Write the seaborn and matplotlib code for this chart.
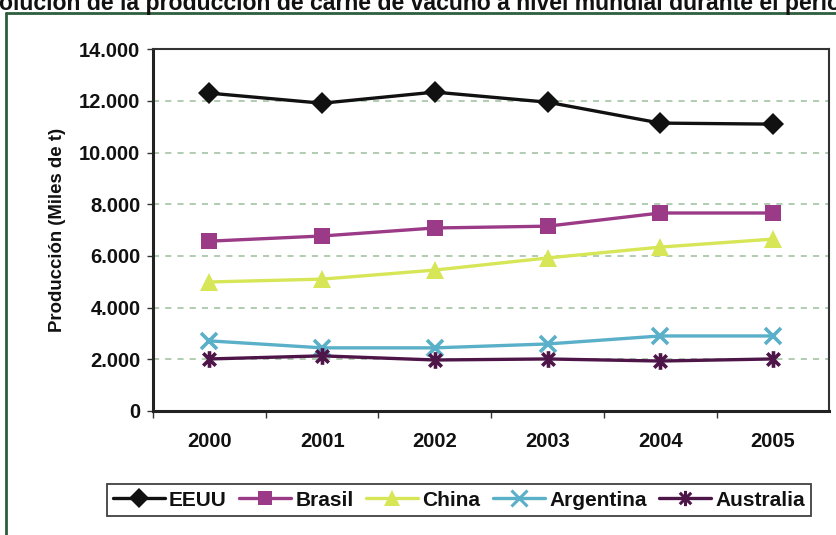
import matplotlib
matplotlib.use("Agg")
import matplotlib.pyplot as plt
import matplotlib.ticker as mticker
from matplotlib.path import Path
from matplotlib.lines import Line2D
import seaborn as sns
import pandas as pd

years = [2000, 2001, 2002, 2003, 2004, 2005]
eeuu = [12300, 11910, 12340, 11950, 11140, 11100]
brasil = [6570, 6770, 7080, 7150, 7660, 7660]
china = [4990, 5100, 5450, 5920, 6340, 6650]
argentina = [2710, 2440, 2440, 2590, 2900, 2900]
australia = [2010, 2130, 1970, 2010, 1930, 2010]
series_names = ["EEUU", "Brasil", "China", "Argentina", "Australia"]
y_ticks = [0, 2000, 4000, 6000, 8000, 10000, 12000, 14000]
title = "Evolución de la producción de carne de vacuno a nivel mundial durante el período 2000-2005"

sns.set_theme(style="white")
plt.rcParams['font.family'] = ['Liberation Sans', 'DejaVu Sans']

rows = []
for name, vals in zip(series_names, [eeuu, brasil, china, argentina, australia]):
    for yr, v in zip(years, vals):
        rows.append({"Año": yr, "Producción": v, "País": name})
df = pd.DataFrame(rows)

colors = {"EEUU": "#111111", "Brasil": "#9b3a86", "China": "#d6e657",
          "Argentina": "#5ab0c8", "Australia": "#4e1549"}
star = Path([(0, -1), (0, 1), (-0.75, -0.75), (0.75, 0.75), (-0.75, 0.75), (0.75, -0.75)],
            [Path.MOVETO, Path.LINETO, Path.MOVETO, Path.LINETO, Path.MOVETO, Path.LINETO])
markers = {"EEUU": "D", "Brasil": "s", "China": "^", "Argentina": "x", "Australia": star}
msizes = {"EEUU": 11, "Brasil": 11, "China": 13, "Argentina": 12, "Australia": 12}
line_art = ("Argentina", "Australia")

fig = plt.figure(figsize=(8.36, 5.35), dpi=100)
ax = fig.add_axes([0.183, 0.232, 0.809, 0.676])

for name in series_names:
    sub = df[df["País"] == name]
    kw = dict(marker=markers[name], markersize=msizes[name])
    if name in line_art:
        kw.update(markeredgewidth=2.6, markeredgecolor=colors[name], markerfacecolor="none")
    else:
        kw.update(markeredgewidth=0, markerfacecolor=colors[name])
    sns.lineplot(data=sub, x="Año", y="Producción", color=colors[name], linewidth=2.4,
                 ax=ax, legend=False, **kw)

ax.set_xlim(1999.5, 2005.5)
ax.set_ylim(0, 14000)
ax.set_yticks(y_ticks)
ax.yaxis.set_major_formatter(mticker.FuncFormatter(lambda v, p: f"{int(v):,}".replace(",", ".")))
ax.set_xticks(years)
ax.set_xticklabels([str(y) for y in years])
ax.set_xticks([y + 0.5 for y in years[:-1]] + [1999.5], minor=True)
ax.tick_params(axis="x", which="major", length=0, pad=15, labelsize=14.5)
ax.tick_params(axis="x", which="minor", length=5, width=1, color="#333333", direction="out", bottom=True)
ax.tick_params(axis="y", which="major", length=4, width=1, color="#333333", direction="out", left=True, pad=5, labelsize=14.5)
for lab in ax.get_xticklabels() + ax.get_yticklabels():
    lab.set_fontweight("bold")
    lab.set_color("#111111")

ax.set_xlabel("")
ax.set_ylabel("Producción (Miles de t)", fontsize=13.4, fontweight="bold", color="#111111")
ax.yaxis.set_label_coords(-0.128, 0.5)
ax.yaxis.grid(True, linestyle=(0, (4, 4)), color="#9cbf9c", linewidth=1.1)
ax.xaxis.grid(False)
for side in ["left", "bottom"]:
    ax.spines[side].set_linewidth(2.2)
    ax.spines[side].set_color("#222222")
for side in ["top", "right"]:
    ax.spines[side].set_linewidth(1.5)
    ax.spines[side].set_color("#333333")

handles = []
for name in series_names:
    h = Line2D([0], [0], color=colors[name], linewidth=2.4, marker=markers[name],
               markersize=msizes[name] - 1)
    if name in line_art:
        h.set_markerfacecolor("none")
        h.set_markeredgecolor(colors[name])
        h.set_markeredgewidth(2.2)
    else:
        h.set_markeredgewidth(0)
    handles.append(h)
leg = fig.legend(handles, series_names, loc="center", bbox_to_anchor=(0.549, 0.065), ncol=5,
                 frameon=True, fancybox=False, edgecolor="#111111", handlelength=2.5,
                 handletextpad=0.2, columnspacing=0.6, borderpad=0.3,
                 prop={"size": 15, "weight": "bold"})
leg.get_frame().set_linewidth(1.3)
for t in leg.get_texts():
    t.set_color("#111111")

fig.text(-0.035, 1 - 10 / 535, title, ha="left", va="baseline",
         fontsize=16.6, fontweight="bold", color="#111111")

border = "#2f5e3e"
fig.add_artist(Line2D([6 / 836, 6 / 836], [0, 1 - 13 / 535], transform=fig.transFigure,
                      color=border, linewidth=2))
fig.add_artist(Line2D([6 / 836, 1], [1 - 13 / 535, 1 - 13 / 535], transform=fig.transFigure,
                      color=border, linewidth=2))

fig.savefig("out.png", dpi=100)
